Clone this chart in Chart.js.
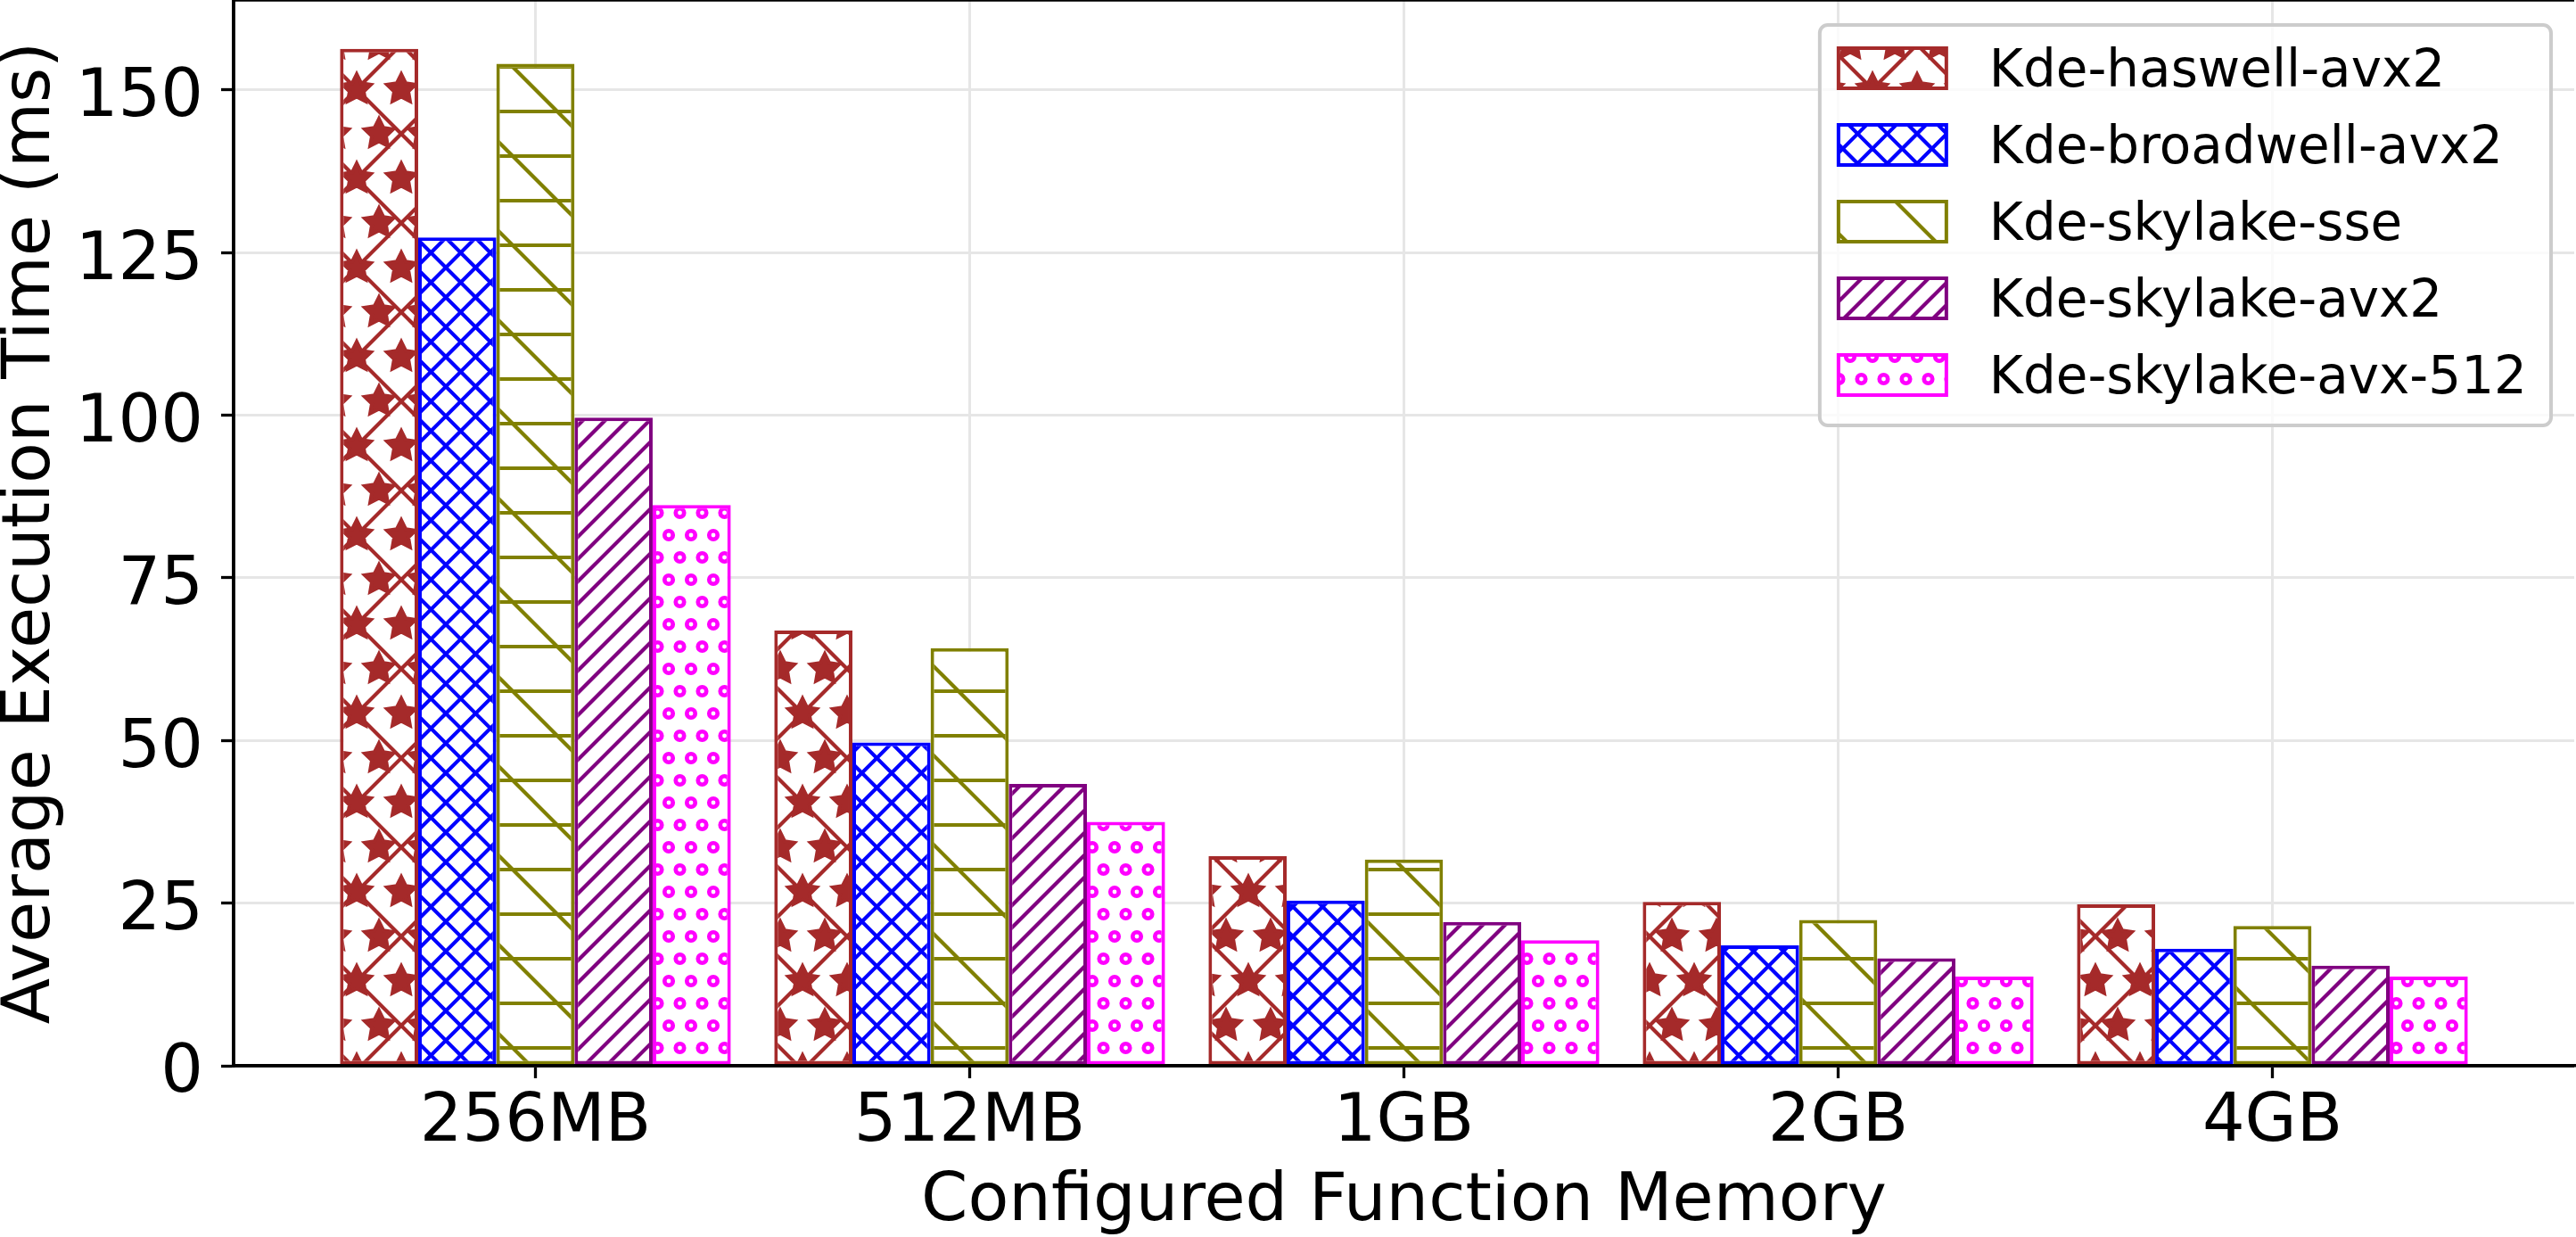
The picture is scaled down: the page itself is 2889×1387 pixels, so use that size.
<!DOCTYPE html>
<html>
<head>
<meta charset="utf-8">
<title>Average Execution Time</title>
<script src="https://cdn.jsdelivr.net/npm/chart.js@4.4.1/dist/chart.umd.min.js"></script>
<style>
  html, body { margin: 0; padding: 0; background: #fff; }
  canvas { display: block; }
</style>
</head>
<body>
<canvas id="grafico" width="2889" height="1387"></canvas>
<script>
// Dados
const categories = ["256MB", "512MB", "1GB", "2GB", "4GB"];
const seriesNames = ["Kde-haswell-avx2", "Kde-broadwell-avx2", "Kde-skylake-sse", "Kde-skylake-avx2", "Kde-skylake-avx-512"];
const haswellAvx2 = [156.3, 66.9, 32.2, 25.2, 24.8];
const broadwellAvx2 = [127.3, 49.7, 25.4, 18.5, 18.0];
const skylakeSse = [154.0, 64.2, 31.7, 22.4, 21.5];
const skylakeAvx2 = [99.6, 43.3, 22.1, 16.5, 15.4];
const skylakeAvx512 = [86.2, 37.5, 19.3, 13.7, 13.7];
const yTicks = [0, 25, 50, 75, 100, 125, 150];
const xTitle = "Configured Function Memory";
const yTitle = "Average Execution Time (ms)";

const series = [haswellAvx2, broadwellAvx2, skylakeSse, skylakeAvx2, skylakeAvx512];
const colors = ["#a52a2a", "#0000ff", "#808000", "#800080", "#ff00ff"];
const hatches = ["*x", "xxx", "-\\", "////", "oo"];
const FONT = "'DejaVu Sans', sans-serif";

// Hachuras no estilo do matplotlib (tile de 1 polegada a 300 dpi)
function hatchPattern(spec, color) {
  const T = 300, lw = 4.17, D = 6;
  const c = document.createElement("canvas");
  c.width = c.height = T;
  const g = c.getContext("2d");
  g.fillStyle = "#fff";
  g.fillRect(0, 0, T, T);
  g.strokeStyle = color;
  g.fillStyle = color;
  g.lineWidth = lw;
  const count = ch => spec.split(ch).length - 1;
  const X = v => v * T;
  const Y = v => T * (1 - v);
  const line = (x1, y1, x2, y2) => {
    g.beginPath();
    g.moveTo(X(x1), Y(y1));
    g.lineTo(X(x2), Y(y2));
    g.stroke();
  };

  const ne = (count("/") + count("x")) * D;
  for (let k = 0; k <= ne && ne; k++) {
    const s = -0.5 + k / ne;
    line(s, -s, 1 + s, 1 - s);
  }
  const se = (count("\\") + count("x")) * D;
  for (let k = 0; k <= se && se; k++) {
    const s = -0.5 + k / se;
    line(s, 1 + s, 1 + s, s);
  }
  const h = count("-") * D;
  for (let k = 0; k < h; k++) {
    const y = (k + 0.5) / h;
    line(0, y, 1, y);
  }

  const shapes = (rows, size, draw) => {
    const off = 1 / rows;
    const r = off * size * T;
    for (let i = 0; i <= rows; i++) {
      const rowPos = i / rows;
      const cols = [];
      if (i % 2 === 0) for (let j = 0; j <= rows; j++) cols.push(j / rows);
      else for (let j = 0; j < rows; j++) cols.push(off / 2 + j * off);
      cols.forEach(cx => draw(X(cx), Y(rowPos), r));
    }
  };
  const stars = count("*") * D;
  if (stars) {
    shapes(stars, 1 / 3, (cx, cy, r) => {
      g.beginPath();
      for (let k = 0; k < 10; k++) {
        const a = Math.PI / 2 + k * Math.PI / 5;
        const rr = k % 2 ? r * 0.5 : r;
        const px = cx + rr * Math.cos(a), py = cy - rr * Math.sin(a);
        k ? g.lineTo(px, py) : g.moveTo(px, py);
      }
      g.closePath();
      g.fill();
      g.stroke();
    });
  }
  const circles = count("o") * D;
  if (circles) {
    shapes(circles, 0.2, (cx, cy, r) => {
      g.save();
      g.lineWidth = lw + 0.5;
      g.beginPath();
      g.arc(cx, cy, r * 0.95, 0, Math.PI * 2);
      g.stroke();
      g.restore();
    });
  }
  return g.createPattern(c, "repeat");
}

// Bordas do gráfico por cima das barras
const spines = {
  id: "spines",
  afterDatasetsDraw(chart) {
    const { ctx, chartArea: a } = chart;
    ctx.save();
    ctx.strokeStyle = "#000";
    ctx.lineWidth = 3.5;
    ctx.beginPath();
    ctx.moveTo(a.left, a.top);
    ctx.lineTo(a.right, a.top);
    ctx.moveTo(a.left, a.top);
    ctx.lineTo(a.left, a.bottom + 1.75);
    ctx.moveTo(a.left - 1.75, a.bottom);
    ctx.lineTo(a.right, a.bottom);
    ctx.stroke();
    ctx.restore();
  }
};

// Legenda dentro da área do gráfico, canto superior direito
const legendBox = {
  id: "legendBox",
  afterDatasetsDraw(chart) {
    const { ctx, chartArea: a } = chart;
    const sets = chart.data.datasets;
    ctx.save();
    ctx.font = `58px ${FONT}`;
    const maxW = Math.max(...sets.map(ds => ctx.measureText(ds.label).width));
    const right = a.right - 26, top = a.top + 28;
    const textX = right - 27 - maxW;
    const left = textX - 190;
    const height = 449;

    ctx.beginPath();
    ctx.roundRect(left, top, right - left, height, 9);
    ctx.fillStyle = "rgba(255,255,255,0.8)";
    ctx.fill();
    ctx.strokeStyle = "#cccccc";
    ctx.lineWidth = 4;
    ctx.stroke();

    sets.forEach((ds, i) => {
      const y = top + 26 + 86 * i;
      ctx.fillStyle = ds.backgroundColor;
      ctx.fillRect(left + 21, y, 121, 45);
      ctx.strokeStyle = ds.borderColor;
      ctx.lineWidth = 4;
      ctx.strokeRect(left + 21, y, 121, 45);
      ctx.fillStyle = "#000";
      ctx.textBaseline = "alphabetic";
      ctx.textAlign = "left";
      ctx.fillText(ds.label, textX, y + 43);
    });
    ctx.restore();
  }
};

const gridOpts = { offset: false, color: "#e6e6e6", lineWidth: 3, tickColor: "#000", tickWidth: 3.3, tickLength: 14 };
const borderOpts = { color: "#000", width: 3.5 };

new Chart(document.getElementById("grafico"), {
  type: "bar",
  data: {
    datasets: series.map((vals, k) => ({
      label: seriesNames[k],
      data: vals.map((v, i) => ({ x: i, y: v })),
      backgroundColor: hatchPattern(hatches[k], colors[k]),
      borderColor: colors[k],
      borderWidth: 4,
      borderSkipped: false,
      barPercentage: 1,
      categoryPercentage: 0.9
    }))
  },
  options: {
    responsive: false,
    animation: false,
    devicePixelRatio: 1,
    layout: { padding: { top: 0, right: 2, bottom: 0, left: 0 } },
    plugins: { legend: { display: false }, tooltip: { enabled: false } },
    scales: {
      x: {
        type: "linear",
        min: -0.695,
        max: 4.695,
        offset: false,
        afterBuildTicks: axis => { axis.ticks = categories.map((c, i) => ({ value: i })); },
        afterFit: axis => { axis.height = 192; axis.paddingLeft = 0; axis.paddingRight = 0; },
        ticks: {
          callback: v => categories[v],
          font: { family: FONT, size: 75 },
          color: "#000",
          padding: 6,
          maxRotation: 0,
          autoSkip: false
        },
        grid: gridOpts,
        border: borderOpts,
        title: {
          display: true,
          text: xTitle,
          color: "#000",
          font: { family: FONT, size: 75, lineHeight: 0.94 },
          padding: { top: 0, bottom: 3 }
        }
      },
      y: {
        min: 0,
        max: 163.8,
        afterBuildTicks: axis => { axis.ticks = yTicks.map(v => ({ value: v })); },
        afterFit: axis => { axis.width = 262; axis.paddingTop = 0; axis.paddingBottom = 0; },
        ticks: {
          callback: v => String(v),
          font: { family: FONT, size: 75 },
          color: "#000",
          padding: 20,
          labelOffset: 10
        },
        grid: gridOpts,
        border: borderOpts,
        title: {
          display: true,
          text: yTitle,
          color: "#000",
          font: { family: FONT, size: 75, lineHeight: 0.94 },
          padding: { top: 0, bottom: 0 }
        }
      }
    }
  },
  plugins: [spines, legendBox]
});
</script>
</body>
</html>
